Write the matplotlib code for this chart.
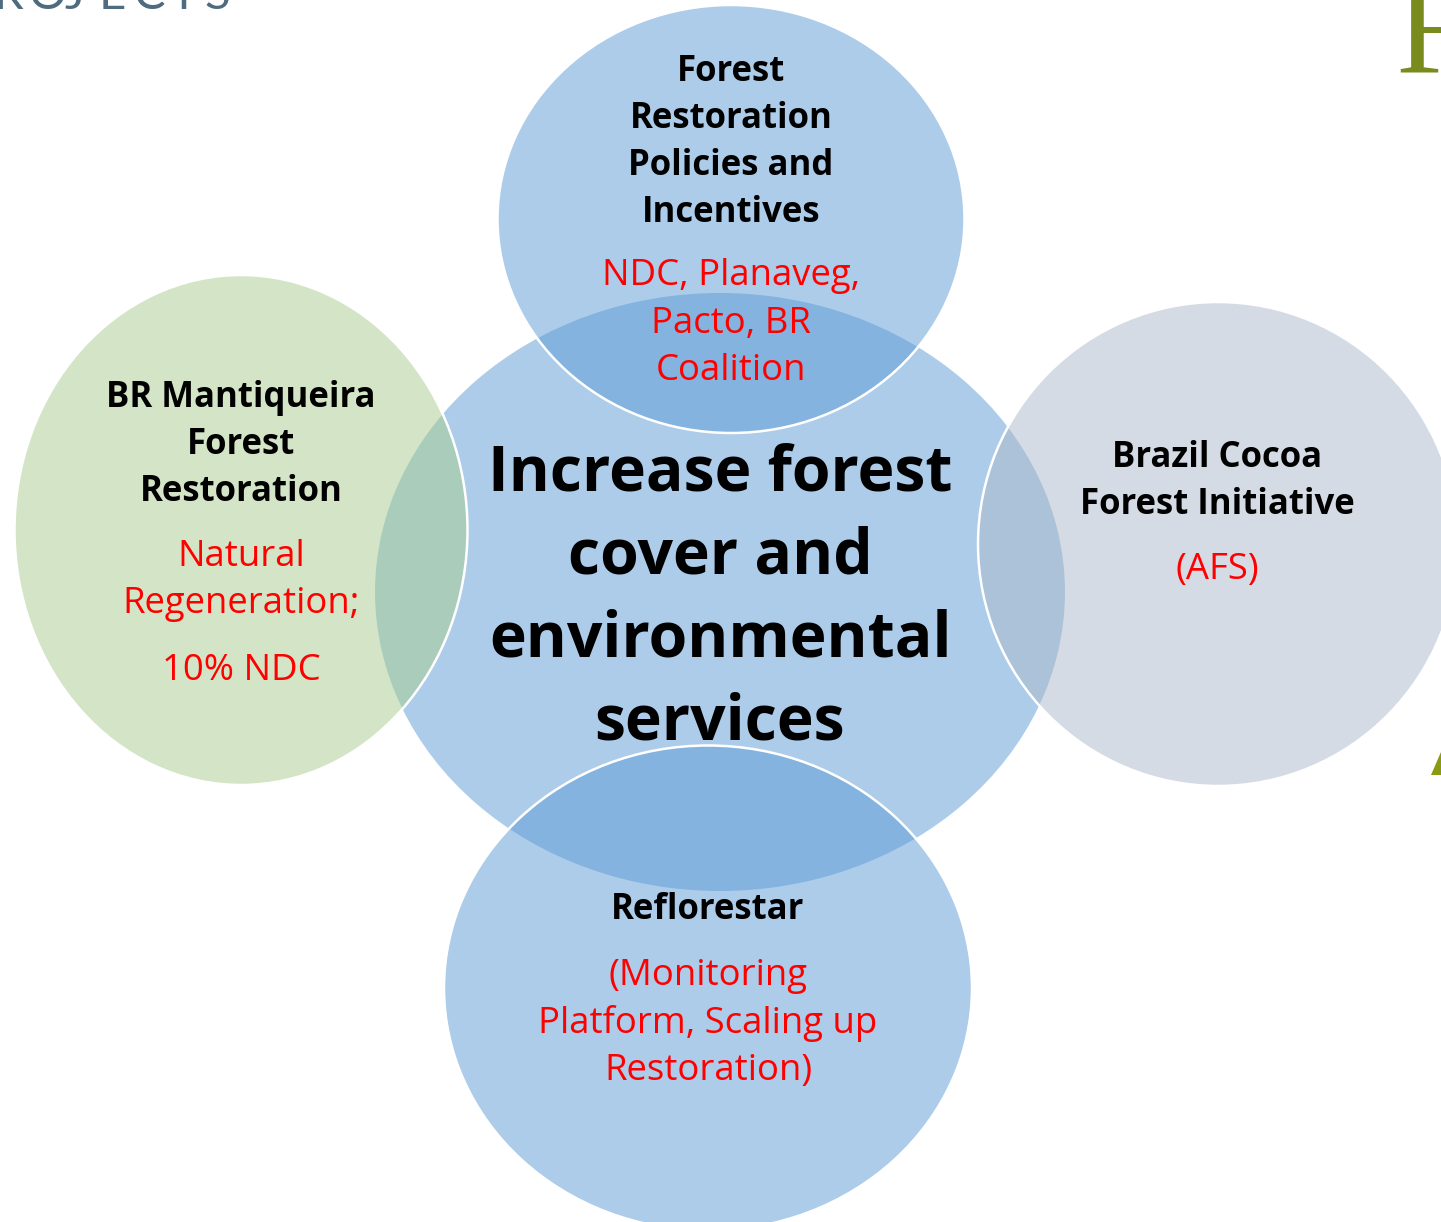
import matplotlib
matplotlib.use("Agg")
import matplotlib.pyplot as plt
from matplotlib.patches import Ellipse, Polygon

plt.rcParams['font.family'] = ['Open Sans', 'DejaVu Sans']

# ---- diagram content ----
center_title = ["Increase forest", "cover and", "environmental", "services"]

node_titles = [
    ["Forest", "Restoration", "Policies and", "Incentives"],
    ["BR Mantiqueira", "Forest", "Restoration"],
    ["Brazil Cocoa", "Forest Initiative"],
    ["Reflorestar"],
]
node_notes = [
    ["NDC, Planaveg,", "Pacto, BR", "Coalition"],
    ["Natural", "Regeneration;", "", "10% NDC"],
    ["(AFS)"],
    ["(Monitoring", "Platform, Scaling up", "Restoration)"],
]

# ---- layout (pixel space, y down) ----
W, H = 1441, 1222
center_geom = (720, 592, 690, 598)
node_geom = [
    (731, 219, 467, 428),   # top
    (241, 530, 453, 510),   # left
    (1218, 544, 480, 484),  # right
    (708, 988, 528, 485),   # bottom
]
node_colors = ["#5B9BD5", "#A9CD8F", "#ADB9CB", "#5B9BD5"]
# x, y of first title line, y of first note line
text_pos = [
    (731, 72, 276),
    (241, 398, 557),
    (1217, 458, 570),
    (708, 910, 976),
]

fig = plt.figure(figsize=(W / 100, H / 100), dpi=100)
ax = fig.add_axes([0, 0, 1, 1])
ax.set_xlim(0, W)
ax.set_ylim(H, 0)
ax.set_aspect('equal')
ax.axis('off')

cx, cy, cw, ch = center_geom
ax.add_patch(Ellipse((cx, cy), cw, ch, facecolor="#5B9BD5", alpha=0.5,
                     edgecolor='none', zorder=1))

for (x, y, w, h), col in zip(node_geom, node_colors):
    ax.add_patch(Ellipse((x, y), w, h, facecolor=col, alpha=0.5,
                         edgecolor='none', zorder=2))
    ax.add_patch(Ellipse((x, y), w, h, facecolor='none', edgecolor='white',
                         linewidth=1.8, zorder=3))

# center label
for i, line in enumerate(center_title):
    ax.text(cx, 474 + i * 83, line, ha='center', va='center', fontsize=45,
            fontweight='bold', color='black', zorder=5)

for (tx, ty, ny), titles, notes in zip(text_pos, node_titles, node_notes):
    for i, line in enumerate(titles):
        ax.text(tx, ty + i * 47, line, ha='center', va='center', fontsize=25,
                fontweight='bold', color='black', zorder=5)
    y = ny
    for line in notes:
        if not line:
            y += 19
            continue
        ax.text(tx, y, line, ha='center', va='center', fontsize=26.3,
                color='#FF0000', zorder=5)
        y += 47.5

# slide remnants at the edges
header = "ROJECTS"
for i, ch_ in enumerate(header):
    ax.text(-6 + i * 35, 9, ch_, ha='left', va='baseline', fontsize=34,
            color='#4F6B80', family=['Lato', 'DejaVu Sans'], zorder=5)

ax.text(1395, 72, "F", ha='left', va='baseline', fontsize=96,
        color='#7A8B1E', family=['Liberation Serif', 'DejaVu Serif'], zorder=5)
ax.add_patch(Polygon([(1431, 775), (1441, 752), (1441, 775)], closed=True,
                     facecolor='#8A9A12', edgecolor='none', zorder=5))

fig.savefig("out.png", dpi=100)
